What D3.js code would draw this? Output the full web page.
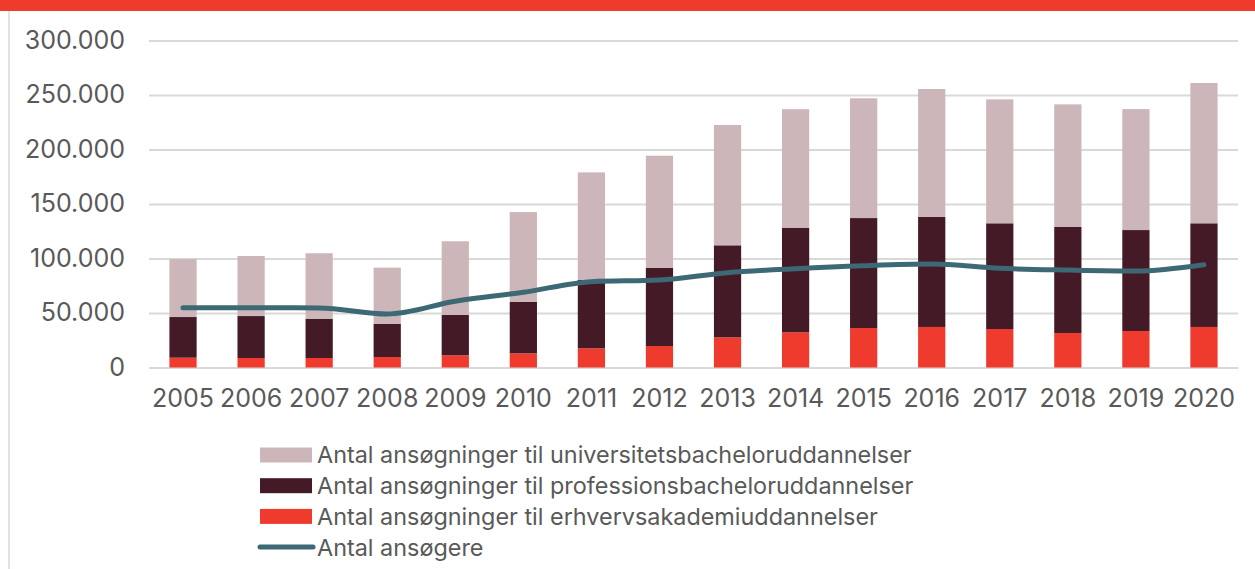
<!DOCTYPE html>
<html>
<head>
<meta charset="utf-8">
<script src="https://cdn.jsdelivr.net/npm/d3@7"></script>
<style>
  body { margin: 0; background: #fff; }
  svg { display: block; }
  svg text { font-family: Inter, "Noto Sans", sans-serif; }
</style>
</head>
<body>
<script>
var fullWidth = 1255;
var fullHeight = 569;

var margin = {top: 40.5, right: 17, bottom: 201.5, left: 149};

var width = fullWidth - margin.left - margin.right;
var height = fullHeight - margin.top - margin.bottom;

// data
var years = ["2005", "2006", "2007", "2008", "2009", "2010", "2011", "2012",
             "2013", "2014", "2015", "2016", "2017", "2018", "2019", "2020"];
var erhverv = [9000, 8700, 8700, 9600, 11200, 13000, 17600, 19700,
               27700, 32300, 36200, 37200, 35300, 31600, 33500, 37200];
var profession = [37300, 38500, 36100, 30300, 37000, 47100, 62700, 71600,
                  84400, 96000, 100900, 100900, 97000, 97300, 92600, 95100];
var universitet = [53200, 55100, 60000, 51700, 67600, 82500, 98700, 103000,
                   110400, 108700, 109900, 117400, 113700, 112500, 111000, 128700];
var ansoegere = [54900, 54900, 54700, 49100, 60800, 69000, 78700, 80300,
                 87000, 90700, 93400, 94900, 91000, 89400, 88500, 94300];
var yTicks = [0, 50000, 100000, 150000, 200000, 250000, 300000];

var seriesNames = ["Antal ansøgninger til universitetsbacheloruddannelser",
                   "Antal ansøgninger til professionsbacheloruddannelser",
                   "Antal ansøgninger til erhvervsakademiuddannelser",
                   "Antal ansøgere"];
var colors = {erhverv: "#ee3b2e", profession: "#431a25", universitet: "#cdb6b9", line: "#3d6974"};

var svg = d3.select("body")
            .append("svg")
            .attr("width", fullWidth)
            .attr("height", fullHeight);

// red band on top and grey frame line at the left
svg.append("rect")
   .attr("x", 0).attr("y", 0)
   .attr("width", fullWidth).attr("height", 11)
   .style("fill", "#ee3b2e");
svg.append("line")
   .attr("x1", 9).attr("x2", 9)
   .attr("y1", 11).attr("y2", fullHeight)
   .style("stroke", "#d9d9d9")
   .style("stroke-width", 1.5);

var xScale = d3.scaleBand()
               .domain(years)
               .range([margin.left, margin.left + width])
               .paddingInner(0.6)
               .paddingOuter(0.3);

var yScale = d3.scaleLinear()
               .domain([0, 300000])
               .range([margin.top + height, margin.top]);

var fmt = function(d) { return d === 0 ? "0" : d3.format(",")(d).replace(/,/g, "."); };

// gridlines + y labels
var yAxis = d3.axisLeft(yScale)
              .tickValues(yTicks)
              .tickFormat(fmt)
              .tickSize(-width)
              .tickPadding(24);

var gy = svg.append("g")
   .attr("transform", "translate(" + margin.left + ",0)")
   .call(yAxis);
gy.attr("font-family", null).attr("font-size", null);
gy.select(".domain").remove();
gy.selectAll(".tick line")
  .style("stroke", "#d9d9d9")
  .style("stroke-width", 2);
gy.selectAll(".tick text")
  .style("font-size", "25px")
  .style("fill", "#595959")
  .attr("dy", "0.3em");

// stacked bars
var rows = years.map(function(y, i) {
    return {year: y, erhverv: erhverv[i], profession: profession[i], universitet: universitet[i]};
});
var stack = d3.stack().keys(["erhverv", "profession", "universitet"]);
var layers = stack(rows);

svg.selectAll(".layer")
   .data(layers)
   .enter()
   .append("g")
   .attr("class", "layer")
   .style("fill", function(d) { return colors[d.key]; })
   .selectAll("rect")
   .data(function(d) { return d; })
   .enter()
   .append("rect")
   .attr("x", function(d) { return xScale(d.data.year); })
   .attr("width", xScale.bandwidth())
   .attr("y", function(d) { return yScale(d[1]); })
   .attr("height", function(d) { return yScale(d[0]) - yScale(d[1]); });

// x labels
var xAxis = d3.axisBottom(xScale).tickSize(0).tickPadding(22);
var gx = svg.append("g")
   .attr("transform", "translate(0," + (margin.top + height) + ")")
   .call(xAxis);
gx.attr("font-family", null).attr("font-size", null);
gx.select(".domain").remove();
gx.selectAll(".tick text")
  .style("font-size", "25px")
  .style("fill", "#595959");

// line for applicants
var line = d3.line()
             .x(function(d, i) { return xScale(years[i]) + xScale.bandwidth() / 2; })
             .y(function(d) { return yScale(d); })
             .curve(d3.curveMonotoneX);

svg.append("path")
   .datum(ansoegere)
   .attr("d", line)
   .style("fill", "none")
   .style("stroke", colors.line)
   .style("stroke-width", 5)
   .style("stroke-linecap", "round")
   .style("stroke-linejoin", "round");

// legend
var legendKeys = ["universitet", "profession", "erhverv", "line"];
var legend = svg.selectAll(".legend")
                .data(legendKeys)
                .enter()
                .append("g")
                .attr("class", "legend")
                .attr("transform", function(d, i) {
                    return "translate(260," + (455 + i * 30.7) + ")";
                });

legend.filter(function(d) { return d !== "line"; })
      .append("rect")
      .attr("x", 0)
      .attr("y", -7.5)
      .attr("width", 52)
      .attr("height", 15)
      .style("fill", function(d) { return colors[d]; });

legend.filter(function(d) { return d === "line"; })
      .append("line")
      .attr("x1", 0).attr("x2", 53)
      .attr("y1", 0).attr("y2", 0)
      .style("stroke", colors.line)
      .style("stroke-width", 5)
      .style("stroke-linecap", "round");

legend.append("text")
      .attr("x", 57)
      .attr("y", 0)
      .attr("dy", "0.36em")
      .style("font-size", "23.4px")
      .style("fill", "#595959")
      .text(function(d, i) { return seriesNames[i]; });
</script>
</body>
</html>
